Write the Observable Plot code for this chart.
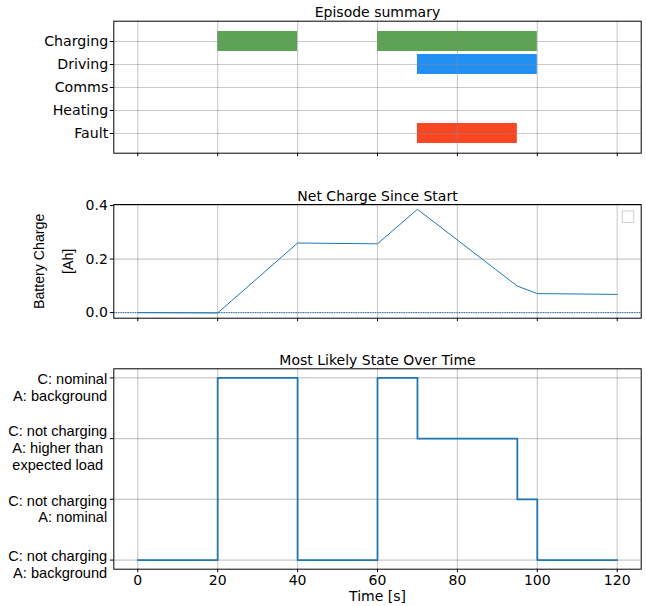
<!DOCTYPE html>
<html>
<head>
<meta charset="utf-8">
<script src="https://cdn.jsdelivr.net/npm/d3@7"></script>
<script src="https://cdn.jsdelivr.net/npm/@observablehq/plot@0.6"></script>
<style>
  html, body { margin: 0; padding: 0; background: white; }
  #chart { width: 646px; }
  #chart svg { display: block; }
</style>
</head>
<body>
<div id="chart"></div>
<script>
// ---- Data ----
const timeTicks = [0, 20, 40, 60, 80, 100, 120];

// Panel 1: Episode summary
const episodeCategories = ["Charging", "Driving", "Comms", "Heating", "Fault"];
const episodeActivity = ["Charging", "Charging", "Driving", "Fault"];
const episodeStart = [20, 60, 70, 70];
const episodeEnd = [40, 100, 100, 95];

// Panel 2: Net charge since start
const chargeTime = [0, 20, 40, 60, 70, 95, 100, 120];
const chargeValue = [0, -0.0015, 0.26, 0.257, 0.386, 0.099, 0.071, 0.068];
const chargeTicks = [0, 0.2, 0.4];

// Panel 3: Most likely state over time
const stateTime = [0, 20, 40, 60, 70, 95, 100, 120];
const stateValue = [0, 3, 0, 3, 2, 1, 0, 0];
const stateLevels = [0, 1, 2, 3];
const stateLabels = [
  "C: not charging\nA: background",
  "C: not charging\nA: nominal",
  "C: not charging\nA: higher than\u00a0\nexpected load\u00a0",
  "C: nominal\nA: background"
];

const titles = ["Episode summary", "Net Charge Since Start", "Most Likely State Over Time"];
const yLabel2 = "Battery Charge\n[Ah]";
const xLabel3 = "Time [s]";

// ---- Styles ----
const activityColor = {Charging: "#5ca454", Driving: "#2290f3", Fault: "#f94724"};
const lineBlue = "#1f77b4";
const gridStyle = {stroke: "#888888", strokeOpacity: 0.45, strokeWidth: 1.1};
const dejavu = "DejaVu Sans";
const liberation = "Liberation Sans";
const W = 646, ML = 113.3, MR = 5.3;
const xDomain = [-6, 126];

const episodes = episodeActivity.map((a, i) => ({activity: a, start: episodeStart[i], end: episodeEnd[i]}));
const chargeData = chargeTime.map((t, i) => ({t, v: chargeValue[i]}));
const stateData = stateTime.map((t, i) => ({t, s: stateValue[i]}));
const labelData = stateLevels.map((l, i) => ({level: l, label: stateLabels[i]}));

function titleMark(s) {
  return Plot.text([s], {text: d => d, frameAnchor: "top", dy: -4, lineAnchor: "bottom",
    fontSize: 14, fontFamily: dejavu, fill: "black"});
}
const baseStyle = {fontFamily: dejavu, fontSize: "14px", color: "black", background: "white", overflow: "visible"};

// ---- Panel 1 ----
const p1 = Plot.plot({
  width: W, height: 180,
  marginTop: 20.7, marginBottom: 27.3, marginLeft: ML, marginRight: MR,
  style: baseStyle,
  x: {domain: xDomain},
  y: {type: "band", domain: episodeCategories, paddingInner: 0.116, paddingOuter: 0.337},
  marks: [
    Plot.barX(episodes, {y: "activity", x1: "start", x2: "end", fill: d => activityColor[d.activity]}),
    Plot.gridX(timeTicks, gridStyle),
    Plot.gridY(episodeCategories, gridStyle),
    Plot.axisY({tickSize: 3.5, tickPadding: 2, fontSize: 14.2, fontFamily: dejavu, label: null}),
    Plot.axisX({ticks: timeTicks, tickSize: 3.5, tickFormat: () => "", label: null}),
    Plot.frame({stroke: "black", strokeWidth: 1}),
    titleMark(titles[0])
  ]
});

// ---- Panel 2 ----
const p2 = Plot.plot({
  width: W, height: 160,
  marginTop: 24, marginBottom: 22.3, marginLeft: ML, marginRight: MR,
  style: baseStyle,
  x: {domain: xDomain},
  y: {domain: [-0.021, 0.404]},
  marks: [
    Plot.gridX(timeTicks, gridStyle),
    Plot.gridY(chargeTicks, gridStyle),
    Plot.ruleY([0], {stroke: lineBlue, strokeWidth: 1, strokeDasharray: "1.2,1.2"}),
    Plot.line(chargeData, {x: "t", y: "v", stroke: lineBlue, strokeWidth: 1}),
    Plot.axisY({ticks: chargeTicks, tickFormat: d3.format(".1f"), tickSize: 3.5, tickPadding: 2.5,
      fontSize: 14, fontFamily: dejavu, label: null}),
    Plot.axisX({ticks: timeTicks, tickSize: 3.5, tickFormat: () => "", label: null}),
    Plot.dot([yLabel2], {frameAnchor: "top-right", dx: -13.2, dy: 12.2, symbol: "square", r: 6.5,
      stroke: "#cfcfcf", strokeWidth: 1, fill: "white"}),
    Plot.text([yLabel2], {text: d => d, frameAnchor: "left", textAnchor: "middle", lineAnchor: "middle",
      dx: -64.5, rotate: -90, lineHeight: 2.05, fontSize: 14.2, fontFamily: liberation, fill: "black"}),
    Plot.frame({stroke: "black", strokeWidth: 1}),
    titleMark(titles[1])
  ]
});

// ---- Panel 3 ----
const labelCommon = {y: "level", text: "label", frameAnchor: "left", textAnchor: "end", dx: -6.6,
  lineHeight: 1.15, fontSize: 14.6, fontFamily: liberation, fill: "black"};
const p3 = Plot.plot({
  width: W, height: 266,
  marginTop: 28.3, marginBottom: 37.3, marginLeft: ML, marginRight: MR,
  style: baseStyle,
  x: {domain: xDomain},
  y: {domain: [-0.15, 3.15]},
  marks: [
    Plot.gridX(timeTicks, gridStyle),
    Plot.gridY(stateLevels, gridStyle),
    Plot.line(stateData, {x: "t", y: "s", curve: "step-after", stroke: lineBlue, strokeWidth: 1.8}),
    Plot.axisY({ticks: stateLevels, tickSize: 3.5, tickFormat: () => "", label: null}),
    Plot.text(labelData, {...labelCommon, filter: d => d.level > 0, dy: 9.2}),
    Plot.text(labelData, {...labelCommon, filter: d => d.level === 0, dy: 3.7}),
    Plot.axisX({ticks: timeTicks, tickSize: 3.5, tickPadding: 2.5, tickFormat: d => String(d),
      fontSize: 14, fontFamily: dejavu, label: null}),
    Plot.text([xLabel3], {text: d => d, frameAnchor: "bottom", dy: 31.5, lineAnchor: "bottom",
      fontSize: 14, fontFamily: dejavu, fill: "black"}),
    Plot.frame({stroke: "black", strokeWidth: 1}),
    titleMark(titles[2])
  ]
});

const chart = document.getElementById("chart");
chart.append(p1, p2, p3);
</script>
</body>
</html>
